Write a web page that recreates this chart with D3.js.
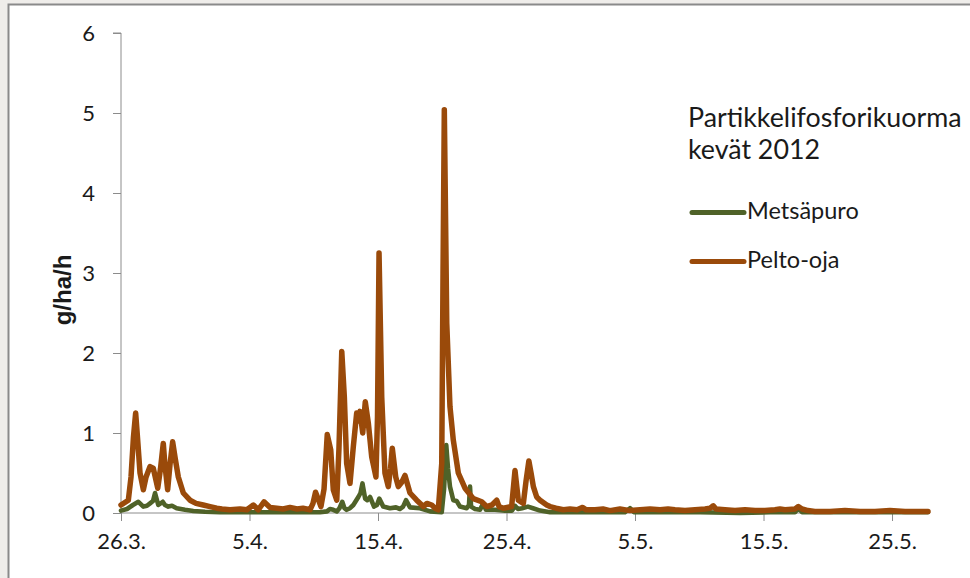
<!DOCTYPE html>
<html>
<head>
<meta charset="utf-8">
<script src="https://cdn.jsdelivr.net/npm/d3@7"></script>
<style>
  html, body { margin: 0; padding: 0; background: #ffffff; }
  svg { display: block; }
  text { font-family: Lato, "Open Sans", sans-serif; fill: #1a1a1a; }
</style>
</head>
<body>
<svg id="chart" width="970" height="578"></svg>
<script>
// Partikkelifosforikuorma, kevät 2012 (g/ha/h)
const startDate = "2012-03-26";
const endDay = 62.8;               // last observation, days after start
const yTicks = [0, 1, 2, 3, 4, 5, 6];
const xTickDates = ["2012-03-26", "2012-04-05", "2012-04-15", "2012-04-25", "2012-05-05", "2012-05-15", "2012-05-25"];
const seriesNames = ["Metsäpuro", "Pelto-oja"];

// Pelto-oja: days after 26.3. and load
const peltoDays = [0.00, 0.57, 0.78, 0.97, 1.14, 1.28, 1.48, 1.74, 1.95, 2.26, 2.51, 2.86, 3.07, 3.29, 3.42, 3.63, 3.81, 4.02, 4.20, 4.46,
  4.85, 5.37, 5.84, 6.40, 6.93, 7.45, 7.86, 8.48, 9.26, 9.80, 10.30, 10.68, 11.13, 11.60, 12.12, 12.61, 13.15, 13.70, 14.16, 14.71,
  14.94, 15.14, 15.33, 15.56, 15.80, 16.05, 16.32, 16.52, 16.79, 16.96, 17.18, 17.38, 17.56, 17.82, 18.08, 18.34, 18.48, 18.60, 18.81, 19.01,
  19.25, 19.51, 19.84, 19.96, 20.08, 20.29, 20.54, 20.80, 20.97, 21.11, 21.38, 21.58, 21.83, 22.10, 22.49, 23.01, 23.53, 23.81, 24.18, 24.44,
  24.69, 24.96, 25.06, 25.16, 25.35, 25.60, 25.86, 26.25, 26.77, 27.42, 28.07, 28.46, 28.87, 29.24, 29.42, 29.75, 30.40, 30.66, 30.92, 31.31,
  31.52, 31.74, 31.91, 32.09, 32.35, 32.61, 33.13, 33.39, 33.85, 34.42, 34.94, 35.49, 35.93, 36.19, 36.89, 37.51, 38.05, 38.83, 39.61, 40.39,
  41.17, 41.95, 42.57, 43.11, 43.89, 44.67, 45.45, 45.84, 46.09, 46.30, 47.00, 47.78, 48.56, 49.34, 50.12, 50.89, 51.28, 51.67, 52.45, 52.71,
  53.00, 53.46, 54.00, 55.18, 56.34, 57.51, 58.68, 59.84, 61.01, 62.02, 62.80];
const peltoValues = [0.10, 0.16, 0.45, 0.95, 1.25, 0.95, 0.50, 0.29, 0.45, 0.58, 0.56, 0.31, 0.55, 0.87, 0.60, 0.29, 0.60, 0.89, 0.70, 0.45,
  0.25, 0.16, 0.12, 0.10, 0.08, 0.06, 0.05, 0.04, 0.05, 0.04, 0.10, 0.04, 0.14, 0.07, 0.06, 0.05, 0.07, 0.05, 0.06, 0.04,
  0.12, 0.26, 0.18, 0.08, 0.30, 0.98, 0.79, 0.29, 0.16, 0.80, 2.02, 1.45, 0.62, 0.37, 0.83, 1.25, 1.15, 1.27, 1.00, 1.39,
  1.12, 0.70, 0.45, 1.20, 3.25, 1.45, 0.50, 0.33, 0.55, 0.81, 0.45, 0.33, 0.38, 0.47, 0.25, 0.16, 0.08, 0.12, 0.10, 0.06,
  0.04, 0.62, 3.00, 5.04, 2.37, 1.33, 0.91, 0.50, 0.31, 0.18, 0.14, 0.08, 0.10, 0.16, 0.08, 0.06, 0.08, 0.53, 0.16, 0.12,
  0.40, 0.65, 0.50, 0.33, 0.20, 0.16, 0.10, 0.08, 0.06, 0.04, 0.05, 0.04, 0.07, 0.04, 0.04, 0.05, 0.03, 0.05, 0.03, 0.04,
  0.05, 0.04, 0.05, 0.04, 0.03, 0.04, 0.05, 0.06, 0.09, 0.05, 0.04, 0.03, 0.04, 0.03, 0.03, 0.04, 0.05, 0.04, 0.05, 0.08,
  0.05, 0.03, 0.02, 0.02, 0.03, 0.02, 0.02, 0.03, 0.02, 0.02, 0.02];

// Metsäpuro: days after 26.3. and load
const metsaDays = [0.00, 0.47, 0.93, 1.35, 1.74, 2.02, 2.26, 2.49, 2.65, 2.90, 3.25, 3.42, 3.68, 3.97, 4.33, 4.98, 5.63, 6.54, 7.70, 10.04,
  11.60, 13.93, 15.49, 16.03, 16.26, 16.52, 16.79, 17.00, 17.22, 17.39, 17.56, 17.82, 18.08, 18.47, 18.64, 18.79, 18.92, 19.00, 19.16, 19.38,
  19.69, 19.92, 20.10, 20.41, 20.93, 21.40, 21.71, 21.95, 22.18, 22.49, 23.27, 24.05, 24.96, 25.14, 25.31, 25.45, 25.60, 25.86, 26.12, 26.38,
  26.90, 27.08, 27.16, 27.24, 27.55, 27.94, 28.19, 28.40, 29.10, 29.88, 30.43, 30.66, 30.89, 31.21, 31.67, 32.06, 32.61, 33.39, 34.16, 35.72,
  37.28, 39.22, 39.61, 39.92, 41.95, 45.06, 48.17, 50.51, 52.45, 52.71, 53.00, 56.73, 60.62, 62.80];
const metsaValues = [0.03, 0.05, 0.10, 0.14, 0.08, 0.09, 0.12, 0.15, 0.25, 0.10, 0.14, 0.10, 0.08, 0.09, 0.06, 0.04, 0.025, 0.015, 0.01, 0.01,
  0.01, 0.01, 0.01, 0.02, 0.05, 0.04, 0.02, 0.06, 0.14, 0.06, 0.04, 0.06, 0.10, 0.20, 0.25, 0.37, 0.25, 0.18, 0.16, 0.20,
  0.08, 0.10, 0.18, 0.08, 0.06, 0.07, 0.05, 0.08, 0.16, 0.07, 0.06, 0.02, 0.01, 0.30, 0.85, 0.55, 0.33, 0.16, 0.15, 0.08,
  0.06, 0.10, 0.33, 0.08, 0.05, 0.04, 0.12, 0.04, 0.04, 0.03, 0.03, 0.09, 0.05, 0.06, 0.08, 0.06, 0.03, 0.01, 0.01, 0.01,
  0.01, 0.01, 0.06, 0.01, 0.01, 0.01, 0.00, 0.01, 0.01, 0.06, 0.01, 0.01, 0.01, 0.01];

const colors = { "Metsäpuro": "#4f6228", "Pelto-oja": "#9a4a0a" };

const parse = d3.utcParse("%Y-%m-%d");
const t0 = parse(startDate);
const toDate = d => new Date(t0.getTime() + d * 864e5);

const series = [
  { name: "Metsäpuro", points: metsaDays.map((d, i) => ({ t: toDate(d), v: metsaValues[i] })) },
  { name: "Pelto-oja", points: peltoDays.map((d, i) => ({ t: toDate(d), v: peltoValues[i] })) }
];

const svg = d3.select("#chart");

// outer frame of the chart object
svg.append("rect").attr("x", 0).attr("y", 0).attr("width", 970).attr("height", 578).attr("fill", "#efedea");
svg.append("rect").attr("x", 8.5).attr("y", 4.5).attr("width", 1000).attr("height", 600)
  .attr("fill", "#ffffff").attr("stroke", "#8a8a8a").attr("stroke-width", 2);

const x = d3.scaleUtc().domain([t0, toDate(endDay)]).range([121, 928]);
const y = d3.scaleLinear().domain([0, 6]).range([513, 33]);

const axisColor = "#8c8c8c";

// y axis
const gy = svg.append("g").attr("transform", "translate(121,0)")
  .call(d3.axisLeft(y).tickValues(yTicks).tickSize(8).tickPadding(18).tickFormat(d3.format("d")));
gy.selectAll("path, line").attr("stroke", axisColor).attr("stroke-width", 1);
gy.select(".domain").attr("d", `M-8,${y(6)}H0V${y(0)}`);
gy.selectAll("text").style("font-family", "Lato, sans-serif").style("font-size", "22px").attr("fill", "#1a1a1a");

// x axis
const gx = svg.append("g").attr("transform", `translate(0,${y(0)})`)
  .call(d3.axisBottom(x).tickValues(xTickDates.map(parse)).tickSize(8).tickPadding(12)
    .tickFormat(d3.utcFormat("%-d.%-m.")));
gx.selectAll("path, line").attr("stroke", axisColor).attr("stroke-width", 1);
gx.select(".domain").attr("d", `M${x.range()[0]},0H${x.range()[1]}`);
gx.selectAll("text").style("font-family", "Lato, sans-serif").style("font-size", "22px").attr("fill", "#1a1a1a");

// y axis title
svg.append("text")
  .attr("transform", "translate(71,290) rotate(-90)")
  .attr("text-anchor", "middle")
  .style("font-family", "'Liberation Sans', Arial, sans-serif")
  .style("font-weight", "bold")
  .style("font-size", "24px")
  .text("g/ha/h");

// series lines
const line = d3.line().x(d => x(d.t)).y(d => y(d.v)).curve(d3.curveLinear);
svg.append("g").selectAll("path").data(series).join("path")
  .attr("d", d => line(d.points))
  .attr("fill", "none")
  .attr("stroke", d => colors[d.name])
  .attr("stroke-width", d => d.name === "Pelto-oja" ? 5.5 : 4.6)
  .attr("stroke-linejoin", "round")
  .attr("stroke-linecap", "round");

// legend with title
const lg = svg.append("g");
lg.append("text").attr("x", 688).attr("y", 126.5).style("font-size", "26.8px").text("Partikkelifosforikuorma");
lg.append("text").attr("x", 688).attr("y", 158.5).style("font-size", "26.8px").text("kevät 2012");
const legendRows = lg.selectAll("g.row").data(seriesNames).join("g").attr("class", "row")
  .attr("transform", (d, i) => `translate(0,${i * 49})`);
legendRows.append("line").attr("x1", 692).attr("x2", 744).attr("y1", 212.5).attr("y2", 212.5)
  .attr("stroke", d => colors[d]).attr("stroke-width", 5).attr("stroke-linecap", "round");
legendRows.append("text").attr("x", 747).attr("y", 218.5).style("font-size", "23.5px").text(d => d);
</script>
</body>
</html>
